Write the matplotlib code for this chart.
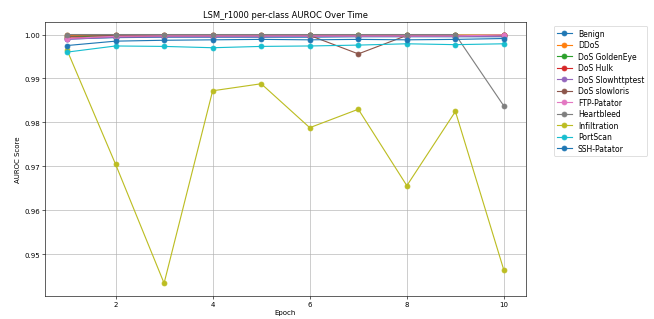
import matplotlib
matplotlib.use('Agg')
import matplotlib.pyplot as plt

epochs = [1, 2, 3, 4, 5, 6, 7, 8, 9, 10]

benign = [0.9990, 0.9993, 0.9994, 0.9994, 0.9994, 0.9994, 0.9995, 0.9995, 0.9995, 0.9995]
ddos = [0.9998, 0.9999, 0.9999, 0.9999, 0.9999, 0.9999, 0.9999, 0.9999, 0.9999, 0.9999]
dos_goldeneye = [0.9995, 0.9997, 0.9997, 0.9997, 0.9997, 0.9998, 0.9998, 0.9998, 0.9998, 0.9998]
dos_hulk = [0.9992, 0.9995, 0.9996, 0.9996, 0.9997, 0.9997, 0.9997, 0.9997, 0.9997, 0.9998]
dos_slowhttptest = [0.9989, 0.9994, 0.9995, 0.9995, 0.9995, 0.9996, 0.9996, 0.9996, 0.9996, 0.9996]
dos_slowloris = [0.9996, 0.9998, 0.9998, 0.9998, 0.9998, 0.9998, 0.9956, 0.9998, 0.9998, 0.9998]
ftp_patator = [0.9991, 0.9996, 0.9997, 0.9997, 0.9997, 0.9997, 0.9997, 0.9997, 0.9997, 0.9999]
heartbleed = [1.0000, 1.0000, 1.0000, 1.0000, 1.0000, 1.0000, 1.0000, 1.0000, 1.0000, 0.9837]
infiltration = [0.9965, 0.9705, 0.9434, 0.9872, 0.9888, 0.9788, 0.9830, 0.9656, 0.9825, 0.9463]
portscan = [0.9960, 0.9974, 0.9973, 0.9970, 0.9973, 0.9974, 0.9976, 0.9979, 0.9977, 0.9979]
ssh_patator = [0.9975, 0.9985, 0.9987, 0.9988, 0.9989, 0.9988, 0.9989, 0.9988, 0.9989, 0.9991]

series = [
    ('Benign', benign),
    ('DDoS', ddos),
    ('DoS GoldenEye', dos_goldeneye),
    ('DoS Hulk', dos_hulk),
    ('DoS Slowhttptest', dos_slowhttptest),
    ('DoS slowloris', dos_slowloris),
    ('FTP-Patator', ftp_patator),
    ('Heartbleed', heartbleed),
    ('Infiltration', infiltration),
    ('PortScan', portscan),
    ('SSH-Patator', ssh_patator),
]

plt.rcParams['font.size'] = 9.2

fig = plt.figure(figsize=(12, 5.87), dpi=54.5)
ax = fig.add_axes([0.069, 0.073, 0.735, 0.855])

for name, vals in series:
    ax.plot(epochs, vals, marker='o', markersize=6.5, label=name)

ax.set_title("LSM_r1000 per-class AUROC Over Time")
ax.set_xlabel("Epoch", labelpad=3)
ax.set_ylabel("AUROC Score")
ax.grid(True)
ax.legend(bbox_to_anchor=(1.05, 1), loc='upper left', fontsize=10, labelspacing=0.33)

plt.savefig('out.png', dpi=54.5)
plt.close()
